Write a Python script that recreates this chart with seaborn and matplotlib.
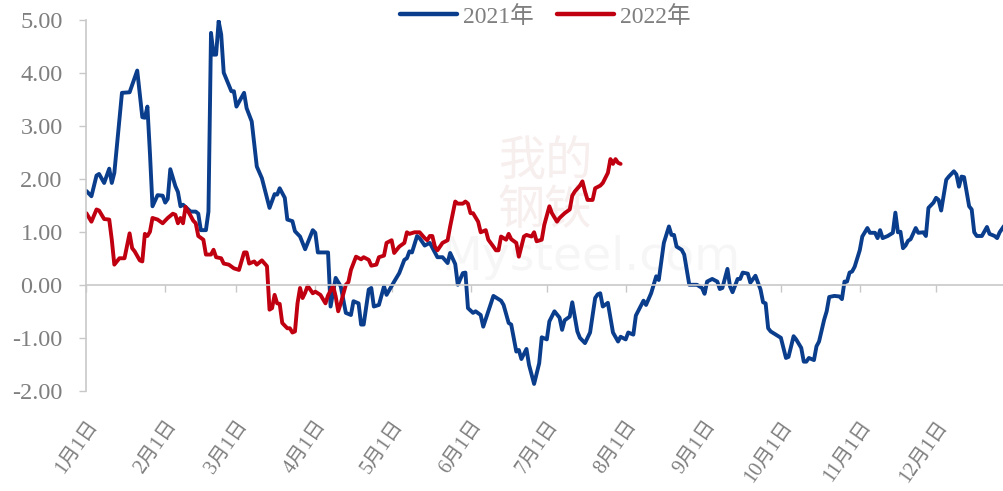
import pandas as pd
import seaborn as sns
import matplotlib.pyplot as plt

# day-of-year offsets (from Jan 1) and values
days_2021 = [0, 2, 4, 5, 7, 9, 10, 11, 14, 17, 20, 22, 23, 24, 25, 26, 28, 30, 31, 32,
             33, 35, 36, 37, 38, 41, 43, 44, 45, 47, 48, 49, 50, 51, 52, 53, 54, 56, 57, 58,
             59, 62, 63, 65, 67, 69, 72, 74, 75, 76, 78, 79, 81, 82, 84, 86, 89, 90, 91, 95,
             96, 98, 100, 102, 104, 105, 107, 108, 109, 111, 112, 113, 115, 117, 118, 121, 123, 125, 126, 127,
             128, 130, 131, 133, 135, 138, 140, 142, 143, 145, 146, 148, 149, 150, 152, 153, 155, 156, 158, 160,
             163, 164, 166, 167, 169, 170, 171, 173, 174, 176, 178, 179, 181, 182, 184, 186, 187, 188, 190, 191,
             193, 194, 196, 198, 200, 201, 202, 203, 205, 207, 209, 210, 212, 213, 215, 216, 219, 220, 222, 224,
             225, 227, 229, 230, 231, 232, 234, 235, 237, 240, 242, 243, 244, 246, 248, 249, 250, 252, 253, 254,
             256, 257, 258, 260, 261, 263, 265, 266, 267, 268, 269, 271, 273, 275, 276, 278, 279, 281, 282, 283,
             284, 286, 287, 288, 290, 291, 292, 294, 296, 297, 298, 299, 300, 301, 302, 304, 305, 307, 308, 310,
             311, 312, 313, 315, 317, 318, 319, 320, 321, 322, 323, 324, 326, 327, 329, 330, 331, 333, 334, 335,
             336, 338, 339, 341, 342, 343, 344, 345, 347, 348, 349, 350, 352, 354, 355, 357, 358, 359, 361]
vals_2021 = [1.77, 1.67, 2.06, 2.09, 1.92, 2.19, 1.92, 2.11, 3.62, 3.63, 4.04, 3.16, 3.15, 3.36, 2.48, 1.48, 1.69, 1.68, 1.55, 1.62,
             2.18, 1.86, 1.75, 1.48, 1.51, 1.38, 1.38, 1.34, 1.03, 1.03, 1.38, 4.75, 4.34, 4.34, 4.97, 4.72, 4.00, 3.77, 3.65, 3.65,
             3.36, 3.62, 3.33, 3.08, 2.23, 2.01, 1.45, 1.71, 1.70, 1.82, 1.64, 1.23, 1.20, 1.01, 0.91, 0.67, 1.03, 0.98, 0.61, 0.61,
             -0.41, 0.13, -0.03, -0.53, -0.57, -0.31, -0.35, -0.75, -0.75, -0.09, -0.06, -0.41, -0.38, -0.03, -0.19, 0.06, 0.22, 0.47, 0.50, 0.63,
             0.61, 0.92, 0.88, 0.74, 0.79, 0.52, 0.52, 0.41, 0.60, 0.39, 0.00, 0.22, 0.23, -0.44, -0.53, -0.50, -0.57, -0.79, -0.50, -0.21,
             -0.30, -0.38, -0.72, -0.75, -1.26, -1.23, -1.40, -1.21, -1.51, -1.87, -1.48, -0.99, -1.03, -0.69, -0.50, -0.62, -0.85, -0.67, -0.60, -0.33,
             -0.88, -1.00, -1.10, -0.90, -0.25, -0.18, -0.16, -0.41, -0.34, -0.90, -1.07, -0.98, -1.03, -0.90, -0.94, -0.58, -0.30, -0.38, -0.16, 0.16,
             0.09, 0.79, 1.10, 0.94, 0.94, 0.72, 0.66, 0.57, 0.00, 0.00, -0.06, -0.17, 0.06, 0.11, 0.06, -0.08, -0.06, 0.30, -0.03, -0.14,
             0.11, 0.11, 0.23, 0.21, 0.04, 0.17, -0.09, -0.33, -0.35, -0.82, -0.88, -0.94, -1.00, -1.38, -1.36, -0.97, -1.03, -1.19, -1.45, -1.45,
             -1.38, -1.42, -1.16, -1.07, -0.66, -0.50, -0.23, -0.21, -0.22, -0.27, 0.06, 0.06, 0.23, 0.25, 0.34, 0.65, 0.91, 1.07, 0.98, 0.98,
             0.88, 1.03, 0.88, 0.92, 0.98, 1.36, 0.99, 1.00, 0.69, 0.74, 0.83, 0.86, 1.07, 0.98, 0.99, 0.92, 1.45, 1.55, 1.64, 1.60,
             1.40, 1.98, 2.04, 2.14, 2.08, 1.85, 2.04, 2.03, 1.48, 1.42, 0.99, 0.92, 0.92, 1.09, 0.96, 0.92, 0.88, 0.99, 1.13]

days_2022 = [0, 2, 4, 5, 7, 9, 10, 11, 13, 15, 17, 18, 19, 21, 22, 23, 24, 25, 26, 28,
             30, 32, 34, 35, 36, 37, 38, 39, 41, 42, 43, 44, 46, 47, 49, 50, 51, 53, 54, 56,
             58, 60, 62, 63, 64, 66, 67, 69, 71, 72, 73, 74, 75, 76, 77, 79, 80, 81, 82, 83,
             84, 85, 86, 87, 89, 90, 92, 94, 95, 97, 98, 99, 100, 102, 103, 104, 106, 108, 109, 111,
             112, 114, 115, 117, 118, 120, 121, 123, 125, 126, 127, 129, 131, 133, 134, 135, 136, 137, 138, 140,
             142, 143, 145, 146, 148, 149, 150, 151, 152, 154, 155, 157, 158, 160, 161, 162, 163, 165, 166, 167,
             169, 170, 172, 173, 175, 176, 177, 179, 180, 182, 183, 185, 186, 188, 190, 191, 192, 194, 195, 196,
             197, 199, 200, 202, 203, 205, 206, 207, 208, 209, 210]
vals_2022 = [1.35, 1.19, 1.42, 1.40, 1.24, 1.23, 0.85, 0.38, 0.50, 0.50, 0.97, 0.69, 0.63, 0.46, 0.44, 0.96, 0.92, 1.00, 1.26, 1.23,
             1.16, 1.26, 1.34, 1.32, 1.16, 1.26, 1.16, 1.47, 1.30, 1.21, 1.16, 0.92, 0.85, 0.57, 0.57, 0.66, 0.52, 0.50, 0.40, 0.38,
             0.31, 0.28, 0.61, 0.61, 0.40, 0.44, 0.38, 0.46, 0.35, -0.47, -0.44, -0.19, -0.35, -0.36, -0.72, -0.82, -0.82, -0.90, -0.88, -0.35,
             -0.06, -0.25, -0.15, -0.02, -0.16, -0.13, -0.19, -0.35, -0.20, -0.02, -0.22, -0.50, -0.35, 0.00, 0.05, 0.28, 0.53, 0.48, 0.52, 0.47,
             0.36, 0.38, 0.52, 0.55, 0.79, 0.84, 0.60, 0.72, 0.79, 0.99, 0.96, 0.99, 0.99, 0.88, 0.84, 0.92, 0.92, 0.72, 0.65, 0.79,
             0.84, 1.10, 1.57, 1.53, 1.53, 1.57, 1.53, 1.35, 1.35, 1.19, 0.99, 1.03, 0.85, 0.72, 0.65, 0.65, 0.91, 0.85, 0.96, 0.86,
             0.79, 0.53, 0.91, 0.94, 0.91, 0.99, 0.82, 0.85, 1.13, 1.48, 1.35, 1.19, 1.26, 1.35, 1.42, 1.68, 1.76, 1.87, 1.95, 1.76,
             1.60, 1.60, 1.82, 1.87, 1.92, 2.11, 2.37, 2.28, 2.37, 2.30, 2.28]

series_names = ["2021年", "2022年"]
series_colors = ["#0a3d8c", "#c00010"]
month_labels = [f"{m}月1日" for m in range(1, 13)]
y_ticks = [-2, -1, 0, 1, 2, 3, 4, 5]

base = pd.Timestamp("2021-01-01")
frames = []
for name, days, vals in [(series_names[0], days_2021, vals_2021),
                         (series_names[1], days_2022, vals_2022)]:
    frames.append(pd.DataFrame({
        "date": base + pd.to_timedelta(days, unit="D"),
        "value": vals,
        "year": name,
    }))
df = pd.concat(frames, ignore_index=True)

sns.set_theme(style="white")
plt.rcParams["font.family"] = ["Liberation Serif", "Noto Sans CJK SC"]
grey = "#7f7f7f"
line_grey = "#c8c8c8"

fig = plt.figure(figsize=(10.04, 4.91), dpi=100)
ax = fig.add_axes([0.086, 0.204, 0.914, 0.756])

# faint watermark
ax.text(0.5, 0.55, "我的\n钢铁", transform=ax.transAxes, ha="center", va="center",
        fontsize=34, color="#f7eeee", linespacing=1.0, zorder=0,
        family=["Noto Sans CJK SC"])
ax.text(0.55, 0.36, "Mysteel.com", transform=ax.transAxes, ha="center", va="center",
        fontsize=34, color="#f6f6f6", zorder=0, family=["DejaVu Sans"])

sns.lineplot(data=df, x="date", y="value", hue="year", palette=series_colors,
             linewidth=2.8, ax=ax, legend=True)

ax.set_ylim(-2, 5)
ax.set_xlim(base, base + pd.Timedelta(days=360.7))
ax.set_yticks(y_ticks)
ax.set_yticklabels([f"{v:.2f}" for v in y_ticks])
ax.set_xlabel("")
ax.set_ylabel("")

month_starts = pd.date_range("2021-01-01", periods=12, freq="MS")
ax.set_xticks(month_starts)
ax.tick_params(axis="x", which="both", bottom=True, labelbottom=False,
               direction="out", length=5, color=line_grey, width=1)
ax.tick_params(axis="y", left=True, direction="out", length=5, color=line_grey,
               width=1, labelsize=17.5, labelcolor=grey, pad=12)

for s in ["top", "right"]:
    ax.spines[s].set_visible(False)
ax.spines["left"].set_color(line_grey)
ax.spines["left"].set_linewidth(1.2)
ax.spines["bottom"].set_position(("data", 0))
ax.spines["bottom"].set_color(line_grey)
ax.spines["bottom"].set_linewidth(1.2)

secax = ax.secondary_xaxis("bottom")
secax.set_xticks(month_starts)
secax.set_xticklabels(month_labels, rotation=55, ha="right", va="top",
                      rotation_mode="anchor", fontsize=14.5, color=grey)
secax.spines["bottom"].set_visible(False)
secax.tick_params(axis="x", length=0, pad=19)

ax.legend(loc="center", bbox_to_anchor=(0.5, 1.008), ncol=2, frameon=False,
          fontsize=17, labelcolor=grey, handlelength=2.4, handletextpad=0.25,
          columnspacing=1.0)
for h in ax.get_legend().get_lines():
    h.set_linewidth(3.2)

fig.savefig("out.png", dpi=100)
